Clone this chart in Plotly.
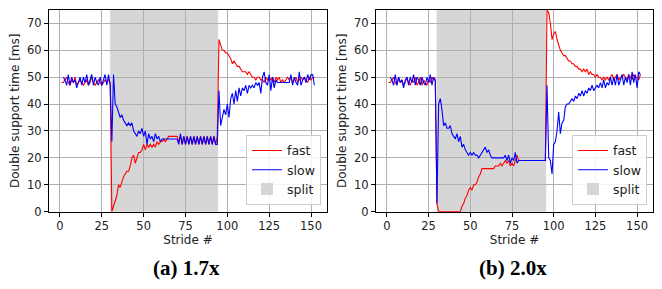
import plotly.graph_objects as go

strides = list(range(1, 153))

a_fast = [48,48,49,50,48,47,49,48,50,47,
          48,49,48,47,48,49,47,48,50,48,
          47,48,49,48,47,48,49,48,49,
          48,
          0,2,4,6,10,9,11,13,14,15,
          15,17,20,21,18,20,22,22,23,25,
          23,25,24,25,24,25,24,26,25,26,
          26,27,26,27,28,28,28,28,28,28,
          26,28,25,28,25,28,25,28,25,28,
          25,28,25,28,25,28,25,28,25,28,
          25,28,25,28,
          64,62,60,60,59,59,
          58,57,55,56,55,54,54,53,52,52,
          52,51,52,51,50,50,49,50,50,49,
          49,48,50,49,50,49,50,48,50,49,
          50,48,49,48,49,50,49,50,48,49,
          50,48,49,50,49,50,49,48,50,49,
          50,50]
a_slow = [None,
          50,49,47,51,47,50,48,49,46,
          48,50,47,50,48,51,47,49,51,47,
          50,48,47,50,47,49,51,47,51,
          47,
          26,51,40,39,37,35,36,34,33,32,
          33,32,33,30,29,28,30,29,31,28,
          30,25,29,27,28,26,29,27,28,26,
          27,27,27,27,27,27,27,27,27,27,
          25,29,25,28,25,28,25,28,25,28,
          25,28,25,28,25,28,25,28,25,28,
          25,28,25,25,
          45,32,35,38,36,40,
          35,42,44,40,45,41,46,43,46,45,
          47,44,47,46,47,46,48,47,48,44,
          50,52,48,47,51,45,50,46,49,48,
          48,48,48,48,48,48,48,51,47,50,
          48,47,52,47,49,50,48,51,49,51,
          51,47]
b_fast = [48,48,49,50,48,47,50,48,49,47,
          48,50,48,47,49,48,50,47,48,50,
          47,49,48,47,49,48,50,49,49,
          3,
          0,0,0,0,0,0,0,0,0,0,0,0,0,0,
          2,3,5,6,8,9,
          8,10,10,11,13,14,16,16,16,16,
          16,16,16,16,17,17,17,18,17,18,
          19,18,19,17,18,17,19,21,19,19,
          19,19,19,19,19,19,19,19,19,19,
          19,19,19,19,19,
          75,74,70,64,66,
          67,64,62,60,59,58,58,57,56,56,
          55,55,54,54,53,53,52,53,52,53,
          51,52,51,51,50,51,50,50,49,50,
          49,50,49,50,51,49,50,51,49,50,
          50,51,50,49,51,50,49,51,50,50,
          49,51]
b_slow = [None,
          50,49,47,51,47,50,48,49,46,
          49,50,47,50,48,51,47,50,49,47,
          50,48,47,50,48,51,47,50,49,
          3,
          40,42,38,32,33,31,31,32,29,28,
          27,29,26,28,24,25,23,22,21,22,
          21,22,21,21,20,21,22,23,24,22,
          23,21,20,20,20,20,20,20,20,20,
          21,19,21,18,20,19,22,18,19,19,
          19,19,19,19,19,19,19,19,19,19,
          19,19,19,19,19,
          47,20,19,14,25,
          26,30,37,29,33,34,39,40,40,41,
          42,41,43,42,44,43,45,43,45,44,
          46,45,47,45,46,47,46,48,46,49,
          46,48,47,50,47,50,47,51,47,49,
          51,47,50,48,51,47,52,48,51,46,
          52,51]

split_a = (30, 94.5)
split_b = (29.8, 95.5)
titles = ["(a) 1.7x", "(b) 2.0x"]
x_ticks = [0, 25, 50, 75, 100, 125, 150]
y_ticks = [0, 10, 20, 30, 40, 50, 60, 70]

# the page body has an 8px margin on every side: keep the figure inside the window
OFF = 8
W, H = 662 - 2 * OFF, 289 - 2 * OFF


def px_x(p):
    return (p - OFF) / W


def px_y(p):
    return 1 - (p - OFF) / H


dom_x = [(px_x(49), px_x(327)), (px_x(376), px_x(653))]
dom_y = (px_y(217), px_y(10))

fig = go.Figure()
panels = [(a_fast, a_slow, split_a), (b_fast, b_slow, split_b)]
tickfont = dict(family="DejaVu Sans", size=11.5, color="#222")
for i, (fast, slow, split) in enumerate(panels):
    sfx = "" if i == 0 else str(i + 1)
    leg = "legend" if i == 0 else "legend2"
    fig.add_trace(go.Scatter(x=strides, y=fast, mode="lines", name="fast",
                             line=dict(color="#ff0000", width=1.1),
                             xaxis="x" + sfx, yaxis="y" + sfx, legend=leg))
    fig.add_trace(go.Scatter(x=strides, y=slow, mode="lines", name="slow",
                             line=dict(color="#0000ff", width=1.1),
                             xaxis="x" + sfx, yaxis="y" + sfx, legend=leg,
                             connectgaps=False))
    fig.add_shape(type="rect", xref="x" + sfx, yref="y" + sfx + " domain",
                  x0=split[0], x1=split[1], y0=0, y1=1,
                  fillcolor="#d6d6d6", line=dict(width=0), layer="below",
                  showlegend=True, name="split", legend=leg)
    axx = dict(domain=dom_x[i], range=[-6.55, 159.55], tickvals=x_ticks,
               showgrid=True, gridcolor="#b0b0b0", gridwidth=1,
               showline=True, linecolor="black", linewidth=1, mirror=True,
               ticks="outside", ticklen=4, tickcolor="black", tickfont=tickfont,
               zeroline=False, anchor="y" + sfx,
               title=dict(text="Stride #", font=dict(family="DejaVu Sans", size=12, color="#222"),
                          standoff=2))
    axy = dict(domain=dom_y, range=[0, 75], tickvals=y_ticks,
               showgrid=True, gridcolor="#b0b0b0", gridwidth=1,
               showline=True, linecolor="black", linewidth=1, mirror=True,
               ticks="outside", ticklen=4, tickcolor="black", tickfont=tickfont,
               zeroline=False, anchor="x" + sfx,
               title=dict(text="Double support time [ms]",
                          font=dict(family="DejaVu Sans", size=12, color="#222"),
                          standoff=4))
    fig.layout["xaxis" + sfx] = axx
    fig.layout["yaxis" + sfx] = axy
    cx = (dom_x[i][0] + dom_x[i][1]) / 2 - 0.003
    fig.add_annotation(text="<b>" + titles[i] + "</b>", xref="paper", yref="paper",
                       x=cx, y=px_y(275),
                       xanchor="center", yanchor="middle", showarrow=False,
                       font=dict(family="Liberation Serif", size=21, color="black"))

legbase = dict(bgcolor="rgba(255,255,255,0.85)", bordercolor="#cccccc", borderwidth=1,
               font=dict(family="DejaVu Sans", size=12.5, color="#222"),
               xanchor="right", yanchor="bottom", itemwidth=30, tracegroupgap=0,
               y=px_y(210))
fig.update_layout(
    width=W, height=H, margin=dict(l=0, r=0, t=0, b=0),
    paper_bgcolor="white", plot_bgcolor="white",
    legend=dict(legbase, x=px_x(321)),
    legend2=dict(legbase, x=px_x(647)),
)
fig.write_html("out.html")
